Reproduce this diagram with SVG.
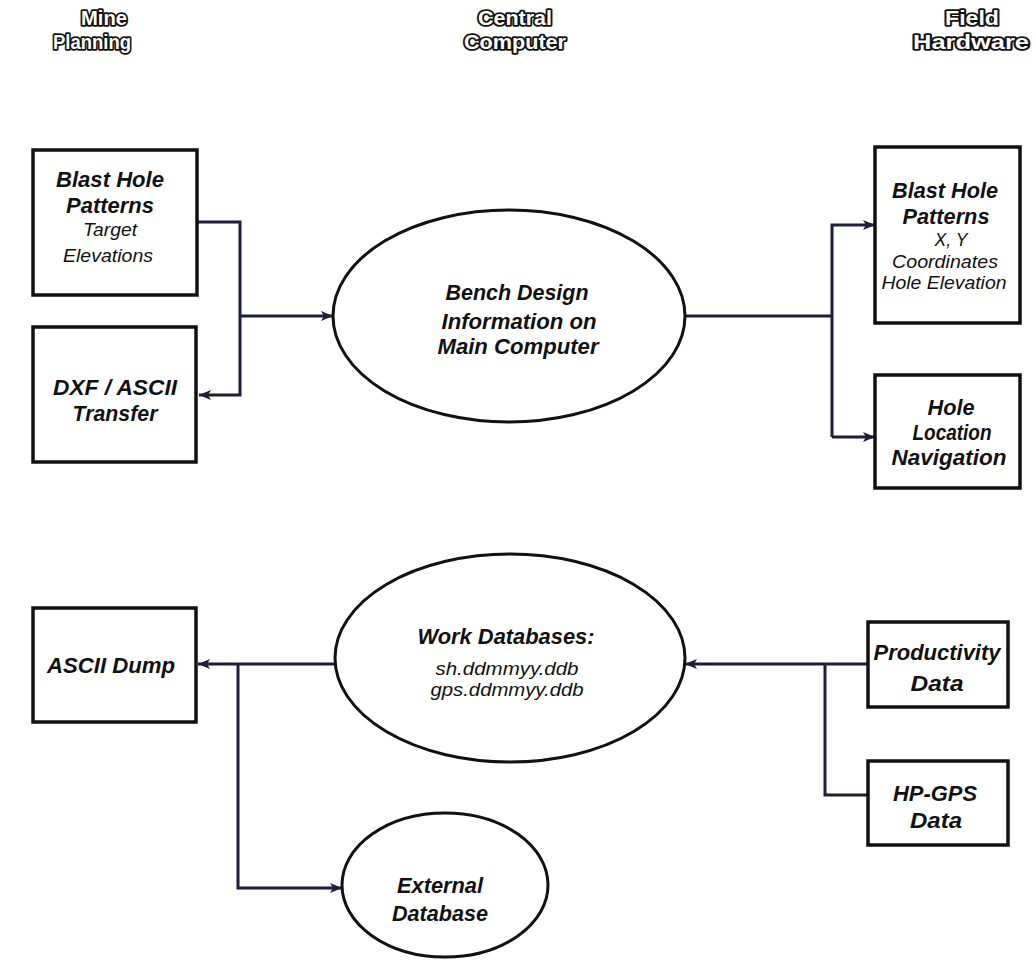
<svg xmlns="http://www.w3.org/2000/svg" width="1034" height="968" viewBox="0 0 1034 968">
<style>
.hdr{font-family:"Liberation Sans","DejaVu Sans",sans-serif;font-weight:bold;font-size:20px;fill:#fff;stroke:#111;stroke-width:3.6px;paint-order:stroke;stroke-linejoin:round;text-anchor:middle}
.box{fill:#fff;stroke:#111;stroke-width:3.5}
.ell{fill:#fff;stroke:#111;stroke-width:3}
.b{font-family:"Liberation Sans","DejaVu Sans",sans-serif;font-weight:bold;font-style:italic;font-size:22px;fill:#111;text-anchor:middle}
.s{font-family:"Liberation Sans","DejaVu Sans",sans-serif;font-style:italic;font-size:18px;fill:#111;text-anchor:middle}
.c{fill:none;stroke:#1b1f3a;stroke-width:3}
</style>
<defs>
<marker id="ah" markerUnits="userSpaceOnUse" markerWidth="14" markerHeight="12" refX="12" refY="6" orient="auto">
<path d="M0,1 L12,6 L0,11 L3,6 z" fill="#1b1f3a"/>
</marker>
</defs>
<rect width="1034" height="968" fill="#fff"/>

<g id="headers">
<text class="hdr" x="104" y="25" textLength="46" lengthAdjust="spacingAndGlyphs">Mine</text>
<text class="hdr" x="92" y="49" textLength="78" lengthAdjust="spacingAndGlyphs">Planning</text>
<text class="hdr" x="515" y="25" textLength="74" lengthAdjust="spacingAndGlyphs">Central</text>
<text class="hdr" x="515" y="49" textLength="102" lengthAdjust="spacingAndGlyphs">Computer</text>
<text class="hdr" x="972" y="25" textLength="54" lengthAdjust="spacingAndGlyphs">Field</text>
<text class="hdr" x="971" y="49" textLength="116" lengthAdjust="spacingAndGlyphs">Hardware</text>
</g>

<g id="connectors">
<path class="c" d="M197,222 H240 V395 H199" marker-end="url(#ah)"/>
<path class="c" d="M240,316 H333" marker-end="url(#ah)"/>
<path class="c" d="M685,316 H832"/>
<path class="c" d="M832,437 V225 H875" marker-end="url(#ah)"/>
<path class="c" d="M832,437 H875" marker-end="url(#ah)"/>
<path class="c" d="M335,664 H198" marker-end="url(#ah)"/>
<path class="c" d="M238,664 V888 H342" marker-end="url(#ah)"/>
<path class="c" d="M868,664 H685" marker-end="url(#ah)"/>
<path class="c" d="M825,664 V795 H868"/>
</g>

<g id="blast-hole-patterns-plan">
<rect class="box" x="33" y="150" width="164" height="145"/>
<text class="b" x="110" y="187" textLength="108" lengthAdjust="spacingAndGlyphs">Blast Hole</text>
<text class="b" x="110" y="213" textLength="88" lengthAdjust="spacingAndGlyphs">Patterns</text>
<text class="s" x="110" y="236" textLength="54" lengthAdjust="spacingAndGlyphs">Target</text>
<text class="s" x="108" y="262" textLength="90" lengthAdjust="spacingAndGlyphs">Elevations</text>
</g>

<g id="dxf-ascii-transfer">
<rect class="box" x="33" y="327" width="163" height="135"/>
<text class="b" x="115" y="395" textLength="124" lengthAdjust="spacingAndGlyphs">DXF / ASCII</text>
<text class="b" x="115" y="421" textLength="85" lengthAdjust="spacingAndGlyphs">Transfer</text>
</g>

<g id="bench-design">
<ellipse class="ell" cx="509" cy="316" rx="176" ry="106"/>
<text class="b" x="517" y="300" textLength="143" lengthAdjust="spacingAndGlyphs">Bench Design</text>
<text class="b" x="519" y="329" textLength="155" lengthAdjust="spacingAndGlyphs">Information on</text>
<text class="b" x="518" y="354" textLength="161" lengthAdjust="spacingAndGlyphs">Main Computer</text>
</g>

<g id="blast-hole-patterns-field">
<rect class="box" x="875" y="147" width="145" height="176"/>
<text class="b" x="945" y="198" textLength="106" lengthAdjust="spacingAndGlyphs">Blast Hole</text>
<text class="b" x="946" y="224" textLength="87" lengthAdjust="spacingAndGlyphs">Patterns</text>
<text class="s" x="951" y="246" textLength="33" lengthAdjust="spacingAndGlyphs">X, Y</text>
<text class="s" x="945" y="268" textLength="106" lengthAdjust="spacingAndGlyphs">Coordinates</text>
<text class="s" x="944" y="289" textLength="125" lengthAdjust="spacingAndGlyphs">Hole Elevation</text>
</g>

<g id="hole-location-navigation">
<rect class="box" x="875" y="375" width="145" height="113"/>
<text class="b" x="951" y="415" textLength="47" lengthAdjust="spacingAndGlyphs">Hole</text>
<text class="b" x="952" y="440" textLength="79" lengthAdjust="spacingAndGlyphs">Location</text>
<text class="b" x="949" y="465" textLength="115" lengthAdjust="spacingAndGlyphs">Navigation</text>
</g>

<g id="ascii-dump">
<rect class="box" x="33" y="608" width="163" height="114"/>
<text class="b" x="111" y="673" textLength="128" lengthAdjust="spacingAndGlyphs">ASCII Dump</text>
</g>

<g id="work-databases">
<ellipse class="ell" cx="510" cy="658" rx="175" ry="104"/>
<text class="b" x="506" y="644" textLength="177" lengthAdjust="spacingAndGlyphs">Work Databases:</text>
<text class="s" x="507" y="675" textLength="143" lengthAdjust="spacingAndGlyphs">sh.ddmmyy.ddb</text>
<text class="s" x="507" y="696" textLength="153" lengthAdjust="spacingAndGlyphs">gps.ddmmyy.ddb</text>
</g>

<g id="external-database">
<ellipse class="ell" cx="445" cy="885" rx="103" ry="72"/>
<text class="b" x="440" y="893" textLength="86" lengthAdjust="spacingAndGlyphs">External</text>
<text class="b" x="440" y="921" textLength="96" lengthAdjust="spacingAndGlyphs">Database</text>
</g>

<g id="productivity-data">
<rect class="box" x="868" y="622" width="140" height="85"/>
<text class="b" x="937" y="660" textLength="127" lengthAdjust="spacingAndGlyphs">Productivity</text>
<text class="b" x="937" y="691" textLength="53" lengthAdjust="spacingAndGlyphs">Data</text>
</g>

<g id="hp-gps-data">
<rect class="box" x="868" y="761" width="140" height="84"/>
<text class="b" x="935" y="801" textLength="84" lengthAdjust="spacingAndGlyphs">HP-GPS</text>
<text class="b" x="936" y="828" textLength="52" lengthAdjust="spacingAndGlyphs">Data</text>
</g>
</svg>
